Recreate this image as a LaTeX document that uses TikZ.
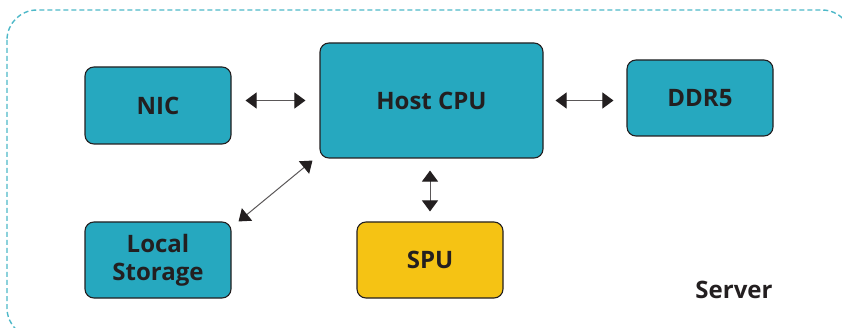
\documentclass[tikz,border=0pt]{standalone}
\usepackage{fontspec}
\setmainfont{Open Sans}
\usetikzlibrary{arrows.meta,calc}
\definecolor{boxteal}{HTML}{26A8BF}
\definecolor{boxgold}{HTML}{F5C314}
\definecolor{ink}{HTML}{231F20}
\definecolor{frameteal}{HTML}{4DB8C8}
\newcommand\tipshape{Triangle[length=11pt,width=16pt,color=ink]}

\begin{document}
\begin{tikzpicture}[x=1pt,y=-1pt,
  unit/.style={draw=ink,line width=1.1pt,rounded corners=9pt,fill=boxteal,
    text=ink,align=center,inner sep=0pt,
    font=\fontsize{24}{28}\selectfont\bfseries},
  link/.style={draw=ink!75,line width=1pt,{\tipshape}-{\tipshape}}]
\useasboundingbox (0,0) rectangle (842,328);
% server frame
\draw[frameteal,line width=1.4pt,dash pattern=on 5pt off 3pt,rounded corners=30pt]
  (7,10) rectangle (852,338);
\node[text=ink,font=\fontsize{24}{28}\selectfont\bfseries] (server) at (734,290) {Server};

\node[unit,minimum width=146pt,minimum height=77pt] (nic) at (158,105.5) {NIC};
\node[unit,minimum width=223pt,minimum height=115pt] (cpu) at (431.5,100.5) {Host CPU};
\node[unit,minimum width=146pt,minimum height=76pt] (ddr) at (700,98) {DDR5};
\node[unit,minimum width=146pt,minimum height=76pt] (storage) at (158,260) {Local\\Storage};
\node[unit,fill=boxgold,minimum width=146pt,minimum height=76pt] (spu) at (430,260) {SPU};

\draw[link,shorten <=14pt,shorten >=14pt] (nic.east |- cpu.west) -- (cpu.west);
\draw[link,shorten <=12pt,shorten >=13pt] (cpu.east) -- (cpu.east -| ddr.west);
\draw[link,shorten <=12pt,shorten >=10pt] (cpu.south -| spu.north) -- (spu.north);
\draw[link] ($(storage.north east)+(7,0)$) -- ($(cpu.south west)+(-7,2)$);
\end{tikzpicture}
\end{document}
